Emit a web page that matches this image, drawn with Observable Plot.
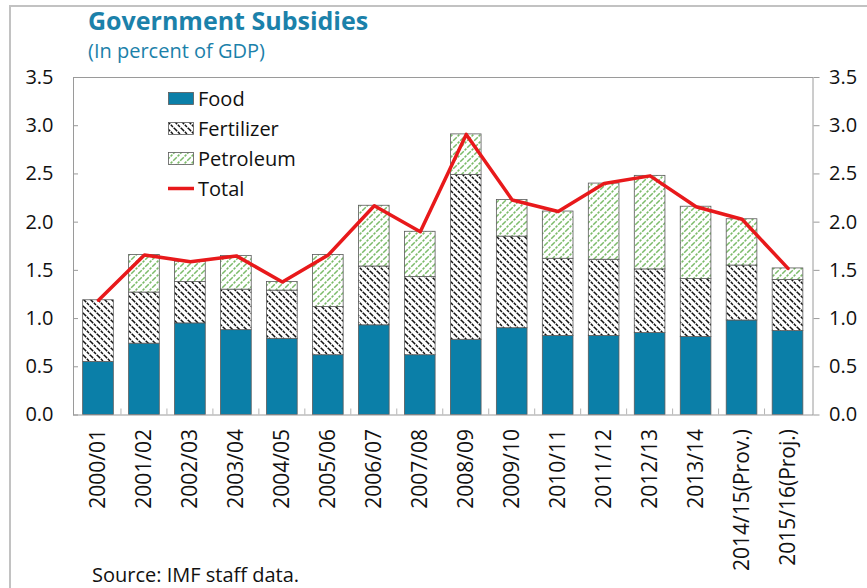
<!DOCTYPE html>
<html><head><meta charset="utf-8">
<script src="https://cdn.jsdelivr.net/npm/d3@7"></script>
<script src="https://cdn.jsdelivr.net/npm/@observablehq/plot@0.6"></script>
<style>
body{margin:0;background:#fff;}
#wrap{position:relative;width:867px;height:588px;overflow:hidden;font-family:"Open Sans",sans-serif;background:#fff;}
#border{position:absolute;left:9px;top:5px;width:900px;height:700px;border-top:2px solid #c2c2c2;border-left:2px solid #c2c2c2;}
#title{position:absolute;left:88px;top:8px;font-size:25px;line-height:1;font-weight:700;color:#1b81aa;white-space:nowrap;}
#subtitle{position:absolute;left:88px;top:41px;font-size:20px;line-height:1;color:#1b81aa;white-space:nowrap;}
#chart{position:absolute;left:0;top:62px;}
#legend{position:absolute;left:168px;top:83px;font-size:20px;color:#111;}
#legend .row{display:flex;align-items:center;height:30px;}
#legend svg{margin-right:4px;}
#source{position:absolute;left:92px;top:565px;font-size:20px;line-height:1;color:#111;white-space:nowrap;}
</style>
</head><body>
<div id="wrap">
  <div id="border"></div>
  <div id="title">Government Subsidies</div>
  <div id="subtitle">(In percent of GDP)</div>
  <div id="chart"></div>
  <div id="legend"></div>
  <div id="source">Source: IMF staff data.</div>
</div>
<script>
const years = ["2000/01","2001/02","2002/03","2003/04","2004/05","2005/06","2006/07","2007/08","2008/09","2009/10","2010/11","2011/12","2012/13","2013/14","2014/15(Prov.)","2015/16(Proj.)"];
const food = [0.55,0.74,0.95,0.88,0.79,0.62,0.93,0.62,0.78,0.90,0.82,0.82,0.85,0.81,0.98,0.87];
const fertilizer = [0.64,0.53,0.43,0.42,0.50,0.50,0.61,0.81,1.71,0.95,0.80,0.79,0.66,0.60,0.57,0.53];
const petroleum = [0.00,0.39,0.21,0.35,0.09,0.54,0.63,0.47,0.42,0.38,0.49,0.79,0.97,0.75,0.48,0.12];
const total = [1.19,1.66,1.59,1.65,1.38,1.66,2.17,1.90,2.91,2.23,2.11,2.40,2.48,2.16,2.03,1.52];
const seriesNames = ["Food","Fertilizer","Petroleum"];
const yTicks = [0,0.5,1.0,1.5,2.0,2.5,3.0,3.5];

const foodColor = "#0b7fa8";
const rows = [];
years.forEach((y,i)=>{
  rows.push({year:y,type:"Food",value:food[i]});
  rows.push({year:y,type:"Fertilizer",value:fertilizer[i]});
  rows.push({year:y,type:"Petroleum",value:petroleum[i]});
});
const totals = years.map((y,i)=>({year:y,total:total[i]}));

const fmt = d3.format(".1f");
const plot = Plot.plot({
  width: 867,
  height: 526,
  marginTop: 15,
  marginBottom: 173.5,
  marginLeft: 73,
  marginRight: 54.5,
  style: {fontSize: "20px", fontFamily: "Open Sans, sans-serif", color: "#111", background: "transparent"},
  x: {domain: years, paddingInner: 0.333, paddingOuter: 0.21, round: false, label: null},
  y: {domain: [0, 3.5], label: null},
  color: {domain: seriesNames, range: [foodColor, "url(#fert)", "url(#petro)"]},
  marks: [
    Plot.barY(rows, {x: "year", y: "value", fill: "type", stroke: "#5a5a5a", strokeWidth: 0.8}),
    Plot.frame({stroke: "#9a9a9a"}),
    Plot.line(totals, {x: "year", y: "total", stroke: "#e8191b", strokeWidth: 3.5}),
    Plot.axisY({anchor: "left", ticks: yTicks, tickFormat: fmt, tickSize: -5, tickPadding: 25, stroke: "#9a9a9a", fill: "#111"}),
    Plot.axisY({anchor: "right", ticks: yTicks, tickFormat: fmt, tickSize: 6, tickPadding: 10, stroke: "#9a9a9a", fill: "#111"}),
    Plot.axisX({anchor: "bottom", tickRotate: -90, tickSize: 0, tickPadding: 14, fill: "#111", fontSize: 21})
  ]
});

const svg = d3.select(plot);
const defs = svg.insert("defs", ":first-child");
const fp = defs.append("pattern").attr("id","fert").attr("patternUnits","userSpaceOnUse").attr("width",7).attr("height",7);
fp.append("rect").attr("width",7).attr("height",7).attr("fill","#fff");
fp.append("path").attr("d","M0,0L7,7M-1,6L1,8M6,-1L8,1").attr("stroke","#111").attr("stroke-width",1.5).attr("stroke-dasharray","3,1");
const pp = defs.append("pattern").attr("id","petro").attr("patternUnits","userSpaceOnUse").attr("width",7).attr("height",7);
pp.append("rect").attr("width",7).attr("height",7).attr("fill","#fff");
pp.append("path").attr("d","M0,7L7,0M-1,1L1,-1M6,8L8,6").attr("stroke","#7cbb6a").attr("stroke-width",1.5).attr("stroke-dasharray","2.5,1.2");

// category separator ticks at the baseline, using Plot's scales
const xs = plot.scale("x"), ys = plot.scale("y");
const y0 = ys.apply(0);
const g = svg.append("g").attr("stroke","#b5b5b5").attr("stroke-width",1);
for (let i = 0; i < years.length - 1; i++) {
  const bx = xs.apply(years[i]) + xs.bandwidth + (xs.step - xs.bandwidth) / 2;
  g.append("line").attr("x1",bx).attr("x2",bx).attr("y1",y0).attr("y2",y0-6);
}
document.getElementById("chart").appendChild(plot);

// legend
const leg = d3.select("#legend");
const swatches = [
  {name:"Food", fill: foodColor},
  {name:"Fertilizer", fill: "url(#fert)"},
  {name:"Petroleum", fill: "url(#petro)"}
];
swatches.forEach(s=>{
  const r = leg.append("div").attr("class","row");
  const sv = r.append("svg").attr("width",26).attr("height",13);
  sv.append("rect").attr("x",0.5).attr("y",0.5).attr("width",25).attr("height",12).attr("fill",s.fill).attr("stroke","#5a5a5a").attr("stroke-width",0.8);
  r.append("span").text(s.name);
});
const rt = leg.append("div").attr("class","row");
const sl = rt.append("svg").attr("width",26).attr("height",13);
sl.append("line").attr("x1",0).attr("x2",26).attr("y1",6.5).attr("y2",6.5).attr("stroke","#e8191b").attr("stroke-width",3.5);
rt.append("span").text("Total");
</script>
</body></html>
